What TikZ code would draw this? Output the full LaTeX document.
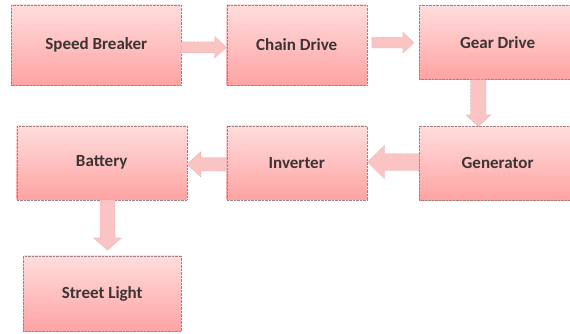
\documentclass[tikz,border=0pt]{standalone}
\usepackage{fontspec}
\setmainfont{Carlito}
\usetikzlibrary{calc}
\definecolor{boxtop}{HTML}{FFDDDD}
\definecolor{boxbot}{HTML}{FFA3A3}
\definecolor{boxline}{HTML}{A08080}
\definecolor{arrfill}{HTML}{FBC4C4}
\definecolor{arrline}{HTML}{C98282}
\definecolor{txt}{HTML}{3C3434}
% #1 from, #2 to, #3 half shaft, #4 half head, #5 head length
\newcommand\fatarrow[5]{\draw[fat] let \p1=(#1), \p2=(#2), \n1={atan2(\y2-\y1,\x2-\x1)}, \n2={veclen(\x2-\x1,\y2-\y1)} in [shift={(\p1)}, rotate=\n1] (0,-#3) -- (\n2-#5,-#3) -- (\n2-#5,-#4) -- (\n2,0) -- (\n2-#5,#4) -- (\n2-#5,#3) -- (0,#3) -- cycle;}

\begin{document}
\begin{tikzpicture}[x=1pt, y=1pt, font=\fontsize{17}{20}\selectfont\bfseries\color{txt},
 block/.style = {draw=boxline, densely dotted, top color=boxtop, bottom color=boxbot, inner sep=0pt},
 fat/.style = {draw=arrline, densely dotted, fill=arrfill}]
\useasboundingbox (0,0) rectangle (570,333);
\node[block, minimum width=169.3, minimum height=80] (sb) at (96.3,288) {Speed Breaker};
\node[block, minimum width=140, minimum height=80] (cd) at (296.7,288) {Chain Drive};
\node[block, minimum width=156.7, minimum height=74.3] (gd) at (497.6,290.8) {Gear Drive};
\node[block, minimum width=156.7, minimum height=74] (gen) at (497.6,170) {Generator};
\node[block, minimum width=140, minimum height=74] (inv) at (296.7,170.3) {Inverter};
\node[block, minimum width=170, minimum height=74] (bat) at (101.7,170.3) {Battery};
\node[block, minimum width=157.7, minimum height=75.6] (sl) at (102.2,39.5) {Street Light};
\coordinate (gdout) at ($(gd.south)+(-19.3,0)$);
\coordinate (batout) at ($(bat.south)+(5.8,0)$);
\fatarrow{$(sb.east)+(0,-2.3)$}{$(cd.west)+(0,-2.3)$}{5.5}{11}{12}
\fatarrow{$(cd.east)+(5,2.3)$}{$(gd.west)+(-5,-0.5)$}{5.3}{10.5}{11.3}
\fatarrow{gdout}{$(gdout |- gen.north)+(0,-0.7)$}{7.7}{12.5}{11.7}
\fatarrow{$(gen.west)+(0,1)$}{$(inv.east)+(0.6,0.7)$}{8.3}{16.7}{17}
\fatarrow{$(inv.west)+(0,-1.6)$}{$(bat.east)+(0,-1.6)$}{6.7}{12.8}{14}
\fatarrow{batout}{$(batout |- sl.north)+(0,5.4)$}{7.5}{14.2}{12.3}
\end{tikzpicture}
\end{document}
